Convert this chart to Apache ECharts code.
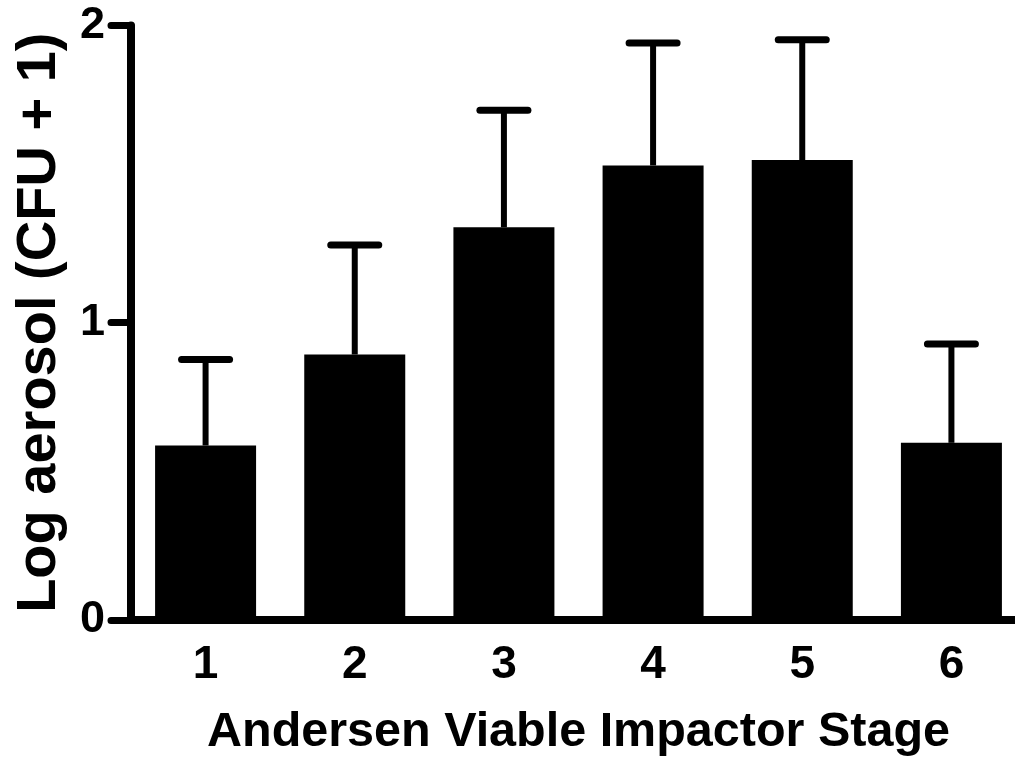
<!DOCTYPE html>
<html>
<head>
<meta charset="utf-8">
<script src="https://cdn.jsdelivr.net/npm/echarts@6/dist/echarts.min.js"></script>
<style>
  html, body { margin: 0; padding: 0; background: #fff; }
  #chart { width: 1015px; height: 767px; }
</style>
</head>
<body>
<div id="chart"></div>
<script>
// data
const stages = ['1', '2', '3', '4', '5', '6']
const means = [0.587, 0.893, 1.321, 1.529, 1.547, 0.596]
const errors = [0.289, 0.368, 0.394, 0.412, 0.405, 0.332]
const yTicks = [0, 1, 2]

const font = '"Liberation Sans", Arial, sans-serif'

const myChart = echarts.init(document.getElementById('chart'))

const errData = stages.map((s, i) => [i, means[i], means[i] + errors[i]])

const option = {
  animation: false,
  // the last category band runs past the right edge in the original
  grid: { left: 131, width: 895, top: 25.4, height: 594.6, outerBoundsMode: 'none' },
  xAxis: {
    type: 'category',
    data: stages,
    name: 'Andersen Viable Impactor Stage',
    nameLocation: 'middle',
    nameGap: 88,
    nameTextStyle: { fontFamily: font, fontWeight: 'bold', fontSize: 48.5, color: '#000' },
    axisLine: { lineStyle: { color: '#000', width: 8 } },
    axisTick: { alignWithLabel: true, length: 20, lineStyle: { color: '#000', width: 7, cap: 'round' } },
    axisLabel: { margin: 22, fontFamily: font, fontWeight: 'bold', fontSize: 46, color: '#000' },
    splitLine: { show: false }
  },
  yAxis: {
    type: 'value',
    min: yTicks[0],
    max: yTicks[yTicks.length - 1],
    interval: 1,
    name: 'Log aerosol (CFU + 1)',
    nameLocation: 'middle',
    nameGap: 63,
    nameTextStyle: { fontFamily: font, fontWeight: 'bold', fontSize: 56, color: '#000' },
    axisLine: { show: true, lineStyle: { color: '#000', width: 8 } },
    axisTick: { show: true, length: 20, lineStyle: { color: '#000', width: 7, cap: 'round' } },
    axisLabel: { margin: 26, fontFamily: font, fontWeight: 'bold', fontSize: 45, color: '#000' },
    splitLine: { show: false }
  },
  series: [
    {
      type: 'bar',
      data: means,
      barWidth: 101,
      itemStyle: { color: '#000' },
      z: 2
    },
    {
      type: 'custom',
      data: errData,
      z: 3,
      renderItem: (params, api) => {
        const x = api.value(0)
        const base = api.coord([x, api.value(1)])
        const top = api.coord([x, api.value(2)])
        const half = 24
        return {
          type: 'group',
          children: [
            {
              type: 'line',
              shape: { x1: base[0], y1: base[1], x2: top[0], y2: top[1] },
              style: { stroke: '#000', lineWidth: 6 }
            },
            {
              type: 'line',
              shape: { x1: top[0] - half, y1: top[1], x2: top[0] + half, y2: top[1] },
              style: { stroke: '#000', lineWidth: 7, lineCap: 'round' }
            }
          ]
        }
      }
    }
  ]
}

myChart.setOption(option)
</script>
</body>
</html>
